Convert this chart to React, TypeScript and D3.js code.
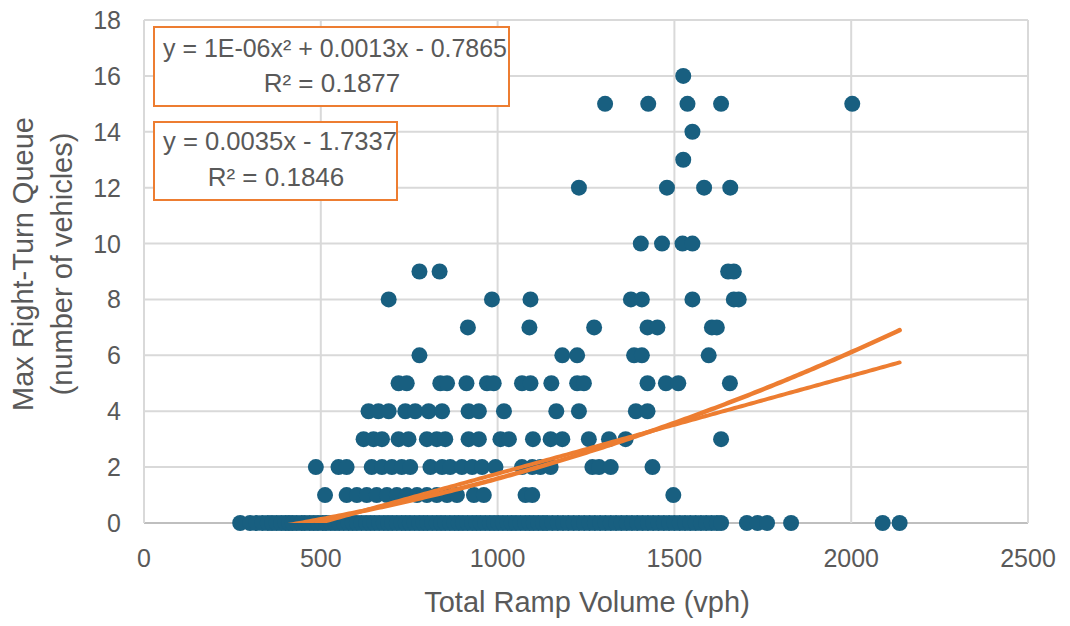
import React from "react";
import * as d3 from "d3";

// ---- data ----
const xTicks = [0, 500, 1000, 1500, 2000, 2500];
const yTicks = [0, 2, 4, 6, 8, 10, 12, 14, 16, 18];

// total ramp volume (vph) of observations, grouped by max right-turn queue
const queue0 = [
  272, 300, 318, 335, 350, 362, 375, 388, 400, 410, 420, 432, 445, 455, 468, 480, 492, 505, 515, 528,
  540, 552, 565, 578, 590, 602, 615, 628, 640, 652, 665, 678, 690, 702, 715, 728, 740, 752, 765, 778,
  790, 802, 815, 828, 840, 852, 865, 878, 890, 902, 915, 928, 940, 952, 965, 978, 990, 1002, 1015,
  1028, 1040, 1052, 1065, 1078, 1090, 1102, 1115, 1128, 1140, 1155, 1170, 1185, 1200, 1215, 1230,
  1245, 1260, 1275, 1290, 1305, 1320, 1335, 1350, 1365, 1380, 1395, 1410, 1425, 1440, 1455, 1470,
  1485, 1500, 1515, 1530, 1545, 1560, 1575, 1590, 1605, 1620, 1632, 1705, 1735, 1762, 1830, 2089, 2137,
];
const queue1 = [512, 573, 602, 630, 658, 687, 715, 743, 772, 800, 828, 857, 885, 933, 961, 1079, 1098, 1497];
const queue2 = [486, 550, 573, 644, 673, 701, 729, 753, 810, 843, 866, 899, 928, 956, 994, 1069, 1098, 1121, 1150, 1268, 1287, 1320, 1438];
const queue3 = [621, 649, 673, 720, 748, 800, 828, 852, 918, 947, 1008, 1032, 1100, 1150, 1183, 1258, 1315, 1362, 1632];
const queue4 = [635, 663, 692, 739, 767, 805, 843, 918, 947, 1018, 1166, 1230, 1391, 1424];
const queue5 = [720, 743, 838, 857, 912, 970, 989, 1069, 1093, 1152, 1225, 1244, 1424, 1476, 1511, 1657];
const queue6 = [779, 1183, 1225, 1386, 1408, 1597];
const queue7 = [916, 1090, 1273, 1424, 1452, 1606, 1620];
const queue8 = [692, 984, 1093, 1377, 1408, 1551, 1668, 1682];
const queue9 = [779, 836, 1652, 1668];
const queue10 = [1405, 1465, 1523, 1551];
const queue12 = [1230, 1479, 1584, 1658];
const queue13 = [1525];
const queue14 = [1551];
const queue15 = [1304, 1426, 1537, 1632, 2003];
const queue16 = [1525];

const queueLevels = [0, 1, 2, 3, 4, 5, 6, 7, 8, 9, 10, 12, 13, 14, 15, 16];
const queueGroups = [queue0, queue1, queue2, queue3, queue4, queue5, queue6, queue7, queue8, queue9, queue10, queue12, queue13, queue14, queue15, queue16];

// trendlines: polynomial (order 2) and linear
const polyCoeffs = [1.075e-6, 0.0013, -0.7865];
const linCoeffs = [0.0035, -1.7337];
const polyLabel = ["y = 1E-06x² + 0.0013x - 0.7865", "R² = 0.1877"];
const linLabel = ["y = 0.0035x - 1.7337", "R² = 0.1846"];

const xTitle = "Total Ramp Volume (vph)";
const yTitle = ["Max Right-Turn Queue", "(number of vehicles)"];

// ---- styling ----
const W = 1070;
const H = 626;
const DOT = "#185F80";
const ORANGE = "#ED7D31";
const GRID = "#D9D9D9";
const TEXT = "#595959";
const FONT = "'Liberation Sans', Arial, sans-serif";

export default function App() {
  const x = d3.scaleLinear().domain([0, 2500]).range([144, 1028]);
  const y = d3.scaleLinear().domain([0, 18]).range([523, 20]);

  const points: [number, number][] = [];
  queueGroups.forEach((g, i) => g.forEach((v) => points.push([v, queueLevels[i]])));

  const xs = points.map((p) => p[0]);
  const xMin = d3.min(xs) as number;
  const xMax = d3.max(xs) as number;
  const samples = d3.range(0, 201).map((i) => xMin + ((xMax - xMin) * i) / 200);

  const line = d3
    .line<[number, number]>()
    .x((d) => x(d[0]))
    .y((d) => y(d[1]));

  const polyPts: [number, number][] = samples.map((v) => [v, polyCoeffs[0] * v * v + polyCoeffs[1] * v + polyCoeffs[2]]);
  const linPts: [number, number][] = samples.map((v) => [v, linCoeffs[0] * v + linCoeffs[1]]);

  const [x0, x1] = x.range();
  const [yb, yt] = y.range();

  return (
    <svg
      width={W}
      height={H}
      viewBox={`0 0 ${W} ${H}`}
      style={{ position: "absolute", left: 0, top: 0, background: "#fff", fontFamily: FONT }}
    >
      <defs>
        <clipPath id="plot">
          <rect x={x0} y={yt} width={x1 - x0} height={yb - yt} />
        </clipPath>
      </defs>
      <rect x={0} y={0} width={W} height={H} fill="#fff" />

      {/* gridlines */}
      {yTicks.map((t) => (
        <line key={"gy" + t} x1={x0} x2={x1} y1={y(t)} y2={y(t)} stroke={t === 0 ? "#BFBFBF" : GRID} strokeWidth={2} />
      ))}
      {xTicks.map((t) => (
        <line key={"gx" + t} x1={x(t)} x2={x(t)} y1={yt} y2={yb} stroke={GRID} strokeWidth={2} />
      ))}

      {/* tick labels */}
      {yTicks.map((t) => (
        <text key={"ty" + t} x={121} y={y(t)} dy="0.36em" textAnchor="end" fontSize={25} fill={TEXT}>
          {t}
        </text>
      ))}
      {xTicks.map((t) => (
        <text key={"tx" + t} x={x(t)} y={567} textAnchor="middle" fontSize={25} fill={TEXT}>
          {t}
        </text>
      ))}

      {/* axis titles */}
      <text x={(x0 + x1) / 2 + 1} y={612} textAnchor="middle" fontSize={29} fill={TEXT}>
        {xTitle}
      </text>
      <g transform="translate(33,264) rotate(-90)">
        <text x={0} y={0} textAnchor="middle" fontSize={29} fill={TEXT}>
          {yTitle[0]}
        </text>
        <text x={0} y={39} textAnchor="middle" fontSize={29} fill={TEXT}>
          {yTitle[1]}
        </text>
      </g>

      {/* scatter */}
      <g>
        {points.map((p, i) => (
          <circle key={i} cx={x(p[0])} cy={y(p[1])} r={8} fill={DOT} />
        ))}
      </g>

      {/* trendlines */}
      <g clipPath="url(#plot)">
        <path d={line(polyPts) || ""} fill="none" stroke={ORANGE} strokeWidth={4.5} strokeLinecap="round" strokeLinejoin="round" />
        <path d={line(linPts) || ""} fill="none" stroke={ORANGE} strokeWidth={4} strokeLinecap="round" />
      </g>

      {/* equation labels */}
      <rect x={154} y={27} width={355} height={79} fill="#fff" stroke={ORANGE} strokeWidth={2} />
      <text x={163} y={57} fontSize={26} fill={TEXT} textLength={344} lengthAdjust="spacingAndGlyphs">
        {polyLabel[0]}
      </text>
      <text x={332} y={92} textAnchor="middle" fontSize={26} fill={TEXT}>
        {polyLabel[1]}
      </text>

      <rect x={154} y={122} width={243} height={78} fill="#fff" stroke={ORANGE} strokeWidth={2} />
      <text x={163} y={150} fontSize={26} fill={TEXT} textLength={234} lengthAdjust="spacingAndGlyphs">
        {linLabel[0]}
      </text>
      <text x={276} y={186} textAnchor="middle" fontSize={26} fill={TEXT}>
        {linLabel[1]}
      </text>
    </svg>
  );
}
